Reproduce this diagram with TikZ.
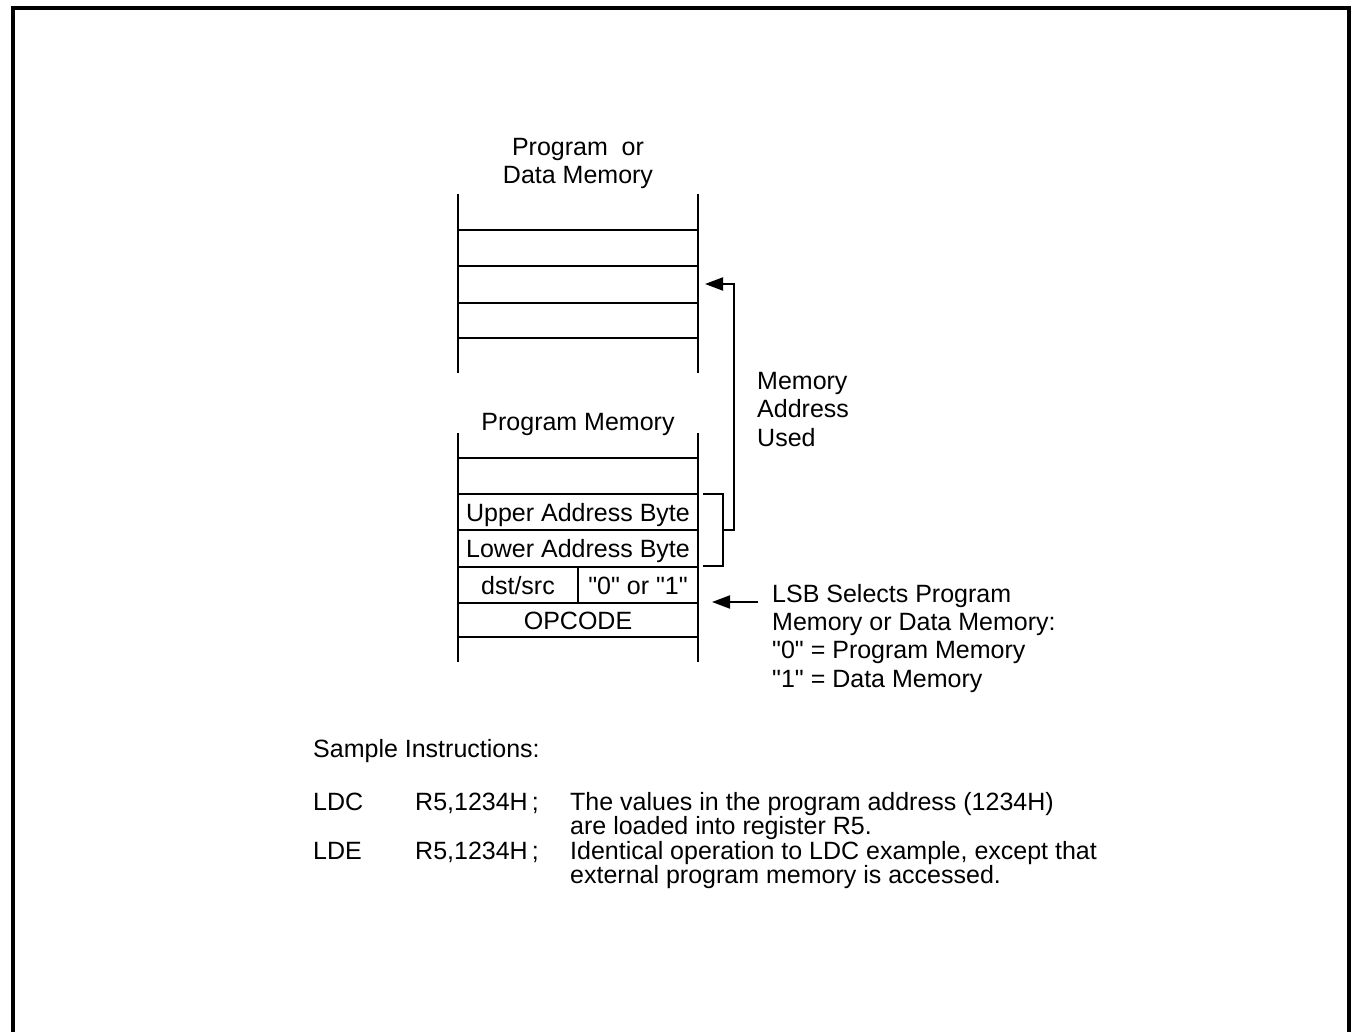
\documentclass[tikz,border=0pt]{standalone}
\usepackage{fontspec}
\setmainfont{Liberation Sans}[Ligatures=TeXOff]
\usetikzlibrary{arrows.meta}
\begin{document}
\begin{tikzpicture}[x=1pt,y=-1pt,
  lbl/.style={font=\fontsize{25}{28}\selectfont, inner sep=0pt, anchor=base},
  lblw/.style={lbl, anchor=base west},
  memline/.style={line width=2pt},
  arr/.style={line width=2pt, -{Triangle[length=18pt,width=13pt]}},
  framestyle/.style={line width=4pt}]
\useasboundingbox (0,0) rectangle (1351,1032);
% outer frame
\draw[framestyle] (13,1032) -- (13,8) -- (1349,8) -- (1349,1032);

% top memory (Program or Data Memory)
\node[lbl] (t1) at (578,156) {Program\ \ or};
\node[lbl] (t2) at (578,184) {Data Memory};
\draw[memline] (458,194) -- (458,373);
\draw[memline] (698,194) -- (698,373);
\foreach \yy in {230,266,303,338} \draw[memline] (458,\yy) -- (698,\yy);

% bottom memory (Program Memory)
\node[lbl] (pm) at (578,430) {Program Memory};
\draw[memline] (458,433) -- (458,662);
\draw[memline] (698,433) -- (698,662);
\foreach \yy in {458,494,530,567,603,637} \draw[memline] (458,\yy) -- (698,\yy);
\draw[memline] (578,567) -- (578,603);
\node[lbl] (ub) at (578,521) {Upper Address Byte};
\node[lbl] (lb) at (578,557) {Lower Address Byte};
\node[lbl] (ds) at (518,594) {dst/src};
\node[lbl] (zo) at (638,594) {"0" or "1"};
\node[lbl] (op) at (578,629) {OPCODE};

% bracket and address arrow
\coordinate (bu) at (703,494);
\coordinate (bl) at (703,566);
\coordinate (bm) at (723,530);
\coordinate (tgt) at (705,284);
\draw[memline] (bu) -- (723,494) -- (723,566) -- (bl);
\draw[arr] (bm) -- (734,530) -- (734,284) -- (tgt);
\node[lblw] (ma1) at (757,389) {Memory};
\node[lblw] (ma2) at (757,417) {Address};
\node[lblw] (ma3) at (757,446) {Used};

% LSB arrow
\coordinate (ls) at (758,602);
\coordinate (lt) at (712,602);
\draw[arr] (ls) -- (lt);
\node[lblw] (l1) at (772,602) {LSB Selects Program};
\node[lblw] (l2) at (772,630) {Memory or Data Memory:};
\node[lblw] (l3) at (772,658) {"0" = Program Memory};
\node[lblw] (l4) at (772,687) {"1" = Data Memory};

% sample instructions
\node[lblw] (si) at (313,757) {Sample Instructions:};
\node[lblw] (i1a) at (313,810) {LDC};
\node[lblw] (i1b) at (415,810) {R5,1234H\,;};
\node[lblw] (i1c) at (570,810) {The values in the program address (1234H)};
\node[lblw] (i1d) at (570,834.5) {are loaded into register R5.};
\node[lblw] (i2a) at (313,859) {LDE};
\node[lblw] (i2b) at (415,859) {R5,1234H\,;};
\node[lblw] (i2c) at (570,859) {Identical operation to LDC example, except that};
\node[lblw] (i2d) at (570,883.5) {external program memory is accessed.};
\end{tikzpicture}
\end{document}
